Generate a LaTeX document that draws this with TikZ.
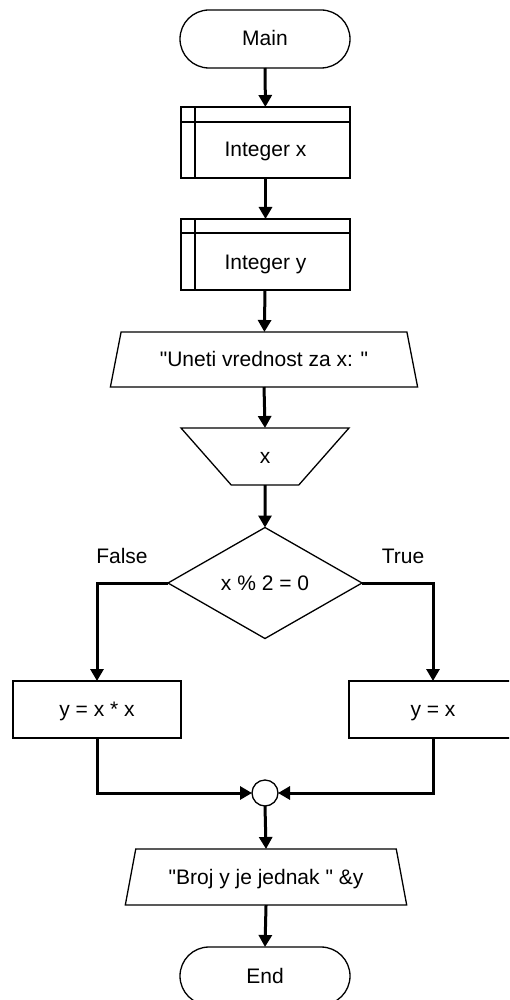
\documentclass[tikz,border=0pt]{standalone}
\usepackage{fontspec}
\setmainfont{Liberation Sans}[Ligatures=TeXOff]
\usetikzlibrary{arrows.meta,shapes.geometric}
\begin{document}
\begin{tikzpicture}[x=1pt,y=-1pt,
  font=\fontsize{21}{25}\selectfont,
  every node/.style={outer sep=0pt, inner sep=0pt, text height=15pt, text depth=1pt},
  shp/.style={draw=black, line width=1.3pt, fill=white},
  term/.style={shp, rectangle, rounded corners=29pt, minimum width=170pt, minimum height=58pt},
  decl/.style={shp, rectangle, minimum width=169pt, minimum height=71pt},
  proc/.style={shp, rectangle, minimum width=168pt, minimum height=57pt},
  outbox/.style={shp, trapezium, trapezium stretches=true, trapezium left angle=64, trapezium right angle=64},
  inbox/.style={shp, trapezium, trapezium stretches=true, trapezium left angle=116, trapezium right angle=116},
  cond/.style={shp, diamond, minimum width=194pt, minimum height=111pt},
  joint/.style={shp, circle, minimum size=26pt},
  flow/.style={draw=black, line width=3pt, -{Triangle[length=12pt,width=13pt]}}
]
\clip (0,0) rectangle (509,1000);
\fill[white] (0,0) rectangle (509,1000);

% start
\node[term] (main) at (265,39) {Main};

% declarations
\node[decl, label={[yshift=-7.5pt]center:Integer x}] (intx) at (265.5,142.5) {};
\draw[shp] ([yshift=-15pt]intx.north west) -- ([yshift=-15pt]intx.north east);
\draw[shp] ([xshift=14pt]intx.north west) -- ([xshift=14pt]intx.south west);

\node[decl, label={[yshift=-7.5pt]center:Integer y}] (inty) at (265.5,254.5) {};
\draw[shp] ([yshift=-14pt]inty.north west) -- ([yshift=-14pt]inty.north east);
\draw[shp] ([xshift=14pt]inty.north west) -- ([xshift=14pt]inty.south west);

% prompt and input
\node[outbox, minimum width=308pt, minimum height=55pt] (prompt) at (264,359.5) {"Uneti vrednost za x: "};
\node[inbox, minimum width=168pt, minimum height=57pt] (readx) at (265,456.5) {x};

% decision
\node[cond] (test) at (265,583) {x \% 2 = 0};
\node (lfalse) at (122,556) {False};
\node (ltrue) at (403,556) {True};

% branches
\node[proc] (sq) at (97,709.5) {y = x * x};
\node[proc] (cp) at (433,709.5) {y = x};

% merge point
\node[joint] (merge) at (265,793) {};

% result and end
\node[outbox, minimum width=282pt, minimum height=56pt] (result) at (266,877) {"Broj y je jednak " \&y};
\node[term] (end) at (265,976) {End};

% connectors
\draw[flow] (main) -- (intx);
\draw[flow] (intx) -- (inty);
\draw[flow] (inty) -- (prompt);
\draw[flow] (prompt.south) -- (readx.north);
\draw[flow] (readx.south) -- (test.north);
\draw[flow] (test.west) -| (sq.north);
\draw[flow] (test.east) -| (cp.north);
\draw[flow] (sq.south) |- (merge.west);
\draw[flow] (cp.south) |- (merge.east);
\draw[flow] (merge.south) -- (result.north);
\draw[flow] (result.south) -- (end.north);
\end{tikzpicture}
\end{document}
